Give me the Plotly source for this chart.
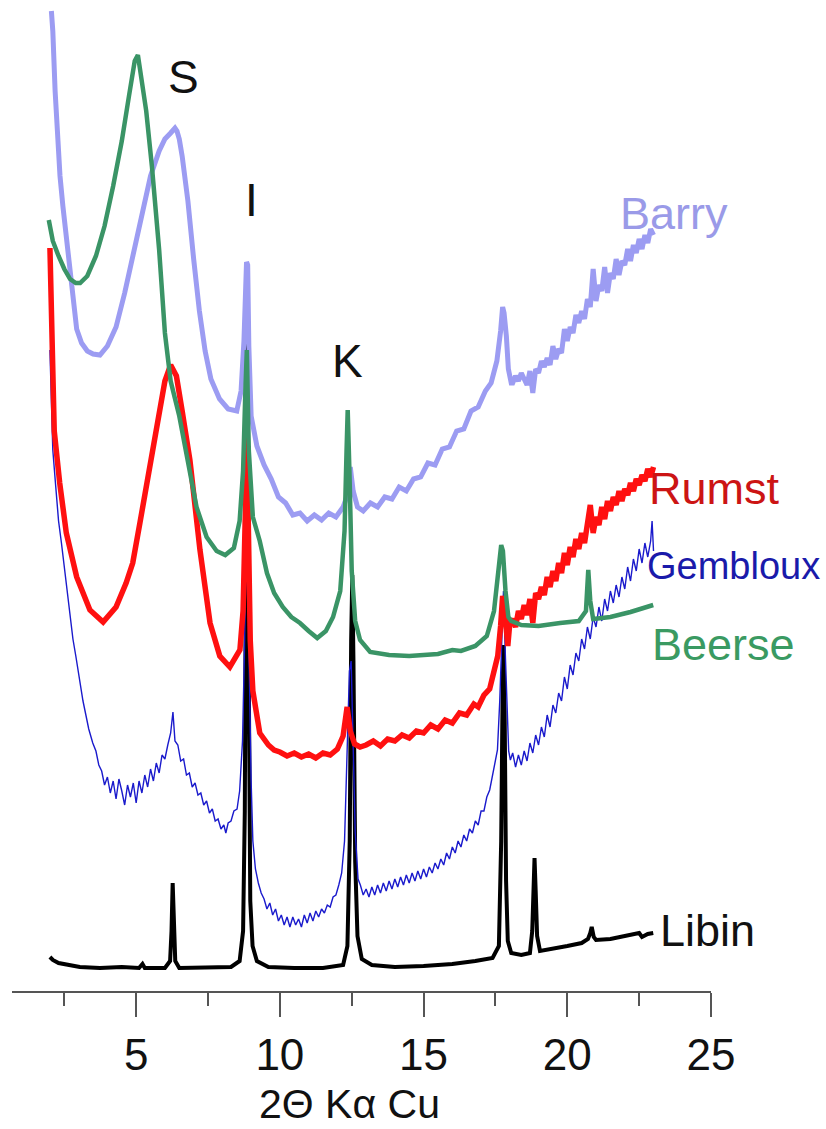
import plotly.graph_objects as go

# ---------------- data (2theta, relative intensity) ----------------
barry_x = [2.05, 2.10, 2.18, 2.25, 2.35, 2.45, 2.55, 2.65, 2.80, 2.93, 3.10, 3.30, 3.50, 3.74, 4.00,
           4.30, 4.60, 4.90, 5.20, 5.50, 5.80, 6.00, 6.20, 6.30, 6.35, 6.42, 6.50, 6.60, 6.80, 7.00,
           7.20, 7.40, 7.60, 7.90, 8.20, 8.50, 8.65, 8.75, 8.80, 8.84, 8.88, 8.92, 9.00, 9.10,
           9.20, 9.45, 9.70, 9.95, 10.20, 10.45, 10.70, 10.95, 11.20, 11.45, 11.70, 11.95, 12.20,
           12.35, 12.45, 12.55, 12.70, 12.90, 13.15, 13.40, 13.65, 13.90, 14.15, 14.40, 14.65, 14.90,
           15.15, 15.40, 15.65, 15.90, 16.15, 16.40, 16.65, 16.90, 17.15, 17.35, 17.55, 17.68, 17.75,
           17.80, 17.88, 17.95, 18.05,
           18.1, 18.2, 18.3, 18.4, 18.5, 18.6, 18.7, 18.8, 18.9, 19.0, 19.1, 19.2, 19.3, 19.4, 19.5,
           19.6, 19.7, 19.8, 19.9, 20.0, 20.1, 20.2, 20.3, 20.4, 20.5, 20.6, 20.7, 20.8, 20.9, 21.0,
           21.1, 21.2, 21.3, 21.4, 21.5, 21.6, 21.7, 21.8, 21.9, 22.0, 22.1, 22.2, 22.3, 22.4, 22.5,
           22.6, 22.7, 22.8, 22.9, 23.0]
barry_y = [980, 960, 900, 860, 815, 785, 760, 730, 690, 662, 648, 640, 637, 636, 645,
           664, 698, 738, 780, 815, 840, 852, 858, 861, 863, 860, 852, 835, 790, 732,
           680, 640, 612, 592, 582, 580, 600, 650, 700, 729, 726, 645, 575, 556,
           545, 526, 512, 494, 488, 476, 478, 470, 476, 471, 478, 474, 484,
           496, 524, 500, 484, 480, 488, 484, 494, 492, 504, 500, 512, 514,
           528, 526, 542, 544, 560, 562, 580, 584, 600, 608, 630, 660, 684,
           678, 655, 622, 608,
           608, 615, 610, 618, 612, 606, 620, 598, 622, 618, 630, 624, 633, 626, 645,
           632, 642, 638, 662, 650, 664, 658, 676, 668, 680, 672, 692, 684, 722, 690,
           706, 700, 724, 698, 718, 712, 732, 716, 730, 726, 742, 730, 746, 738, 752,
           742, 756, 748, 762, 756]

beerse_x = [1.96, 2.10, 2.30, 2.50, 2.70, 2.90, 3.05, 3.30, 3.60, 3.90, 4.20, 4.50, 4.75, 4.95, 5.06,
            5.20, 5.35, 5.55, 5.80, 6.00, 6.20, 6.50, 6.80, 7.10, 7.45, 7.80, 8.10, 8.40, 8.60, 8.72,
            8.80, 8.85, 8.92, 9.00, 9.06, 9.30, 9.55, 9.80, 10.10, 10.40, 10.70, 11.00, 11.30, 11.60,
            11.85, 12.10, 12.25, 12.32, 12.36, 12.42, 12.50, 12.62, 12.79, 13.14, 13.80, 14.50, 15.50,
            16.00, 16.30, 16.80, 17.20, 17.45, 17.60, 17.70, 17.76, 17.85, 17.95, 18.05, 18.40, 19.00,
            19.75, 20.40, 20.65, 20.73, 20.80, 20.90, 21.50, 22.20, 22.99]
beerse_y = [771, 750, 735, 722, 712, 708, 708, 715, 735, 765, 805, 850, 895, 930, 936,
            910, 880, 824, 741, 658, 610, 575, 530, 484, 454, 440, 436, 443, 470, 520,
            600, 641, 540, 490, 474, 450, 418, 398, 384, 374, 368, 360, 353, 360,
            374, 400, 460, 540, 581, 520, 420, 370, 351, 339, 336, 335, 337,
            341, 340, 345, 355, 380, 420, 446, 440, 400, 374, 370, 366, 365,
            368, 370, 380, 421, 390, 372, 374, 379, 386]

rumst_x = [2.00, 2.07, 2.15, 2.34, 2.57, 2.93, 3.39, 3.85, 4.30, 4.65, 4.88, 5.13, 5.37, 5.58, 5.80,
           6.00, 6.20, 6.40, 6.60, 6.87, 7.22, 7.57, 7.91, 8.26, 8.61, 8.72, 8.80, 8.85, 8.90, 8.97,
           9.06, 9.30, 9.60, 9.80, 10.00, 10.25, 10.50, 10.75, 11.00, 11.25, 11.50, 11.75, 12.00,
           12.20, 12.34, 12.45, 12.60, 12.79,
           13.00, 13.25, 13.50, 13.75, 14.00, 14.25, 14.50, 14.75, 15.00, 15.25, 15.50, 15.75, 16.00,
           16.25, 16.50, 16.75, 16.90, 17.10, 17.30, 17.45, 17.58, 17.68, 17.75, 17.80, 17.86, 17.93,
           18.0,
           18.1, 18.2, 18.3, 18.4, 18.5, 18.6, 18.7, 18.8, 18.9, 19.0, 19.1, 19.2, 19.3, 19.4, 19.5,
           19.6, 19.7, 19.8, 19.9, 20.0, 20.1, 20.2, 20.3, 20.4, 20.5, 20.6, 20.7, 20.8, 20.9, 21.0,
           21.1, 21.2, 21.3, 21.4, 21.5, 21.6, 21.7, 21.8, 21.9, 22.0, 22.1, 22.2, 22.3, 22.4, 22.5,
           22.6, 22.7, 22.8, 22.9, 23.0]
rumst_y = [743, 640, 560, 508, 458, 414, 381, 369, 384, 408, 428, 468, 508, 541, 580,
           610, 626, 615, 580, 531, 441, 368, 335, 324, 341, 380, 480, 561, 470, 350,
           300, 258, 246, 241, 239, 235, 238, 234, 237, 233, 238, 236, 242,
           255, 284, 260, 247, 244,
           246, 250, 245, 252, 250, 256, 253, 260, 258, 266, 262, 271, 268,
           278, 276, 287, 284, 296, 302, 318, 335, 365, 395, 388, 360, 345,
           368,
           372, 364, 380, 372, 386, 376, 392, 368, 398, 392, 404, 396, 414, 404, 420,
           410, 428, 418, 438, 426, 444, 434, 452, 442, 458, 448, 466, 486, 458, 474,
           466, 484, 472, 490, 480, 494, 486, 500, 490, 502, 496, 508, 500, 512, 506,
           516, 510, 522, 514, 524]

gembloux_x = [2.00, 2.05, 2.10, 2.20, 2.30, 2.40, 2.50, 2.58, 2.70, 2.80, 2.90, 3.04, 3.15, 3.25, 3.35,
              3.49, 3.60, 3.70, 3.80, 3.90,
              4.0, 4.1, 4.2, 4.3, 4.4, 4.5, 4.6, 4.7, 4.8, 4.9, 5.0, 5.1, 5.2, 5.3, 5.4, 5.5, 5.6, 5.7,
              5.8, 5.9, 6.0, 6.1, 6.2, 6.28, 6.35, 6.45, 6.55, 6.65, 6.75, 6.85, 6.95, 7.05, 7.15, 7.25,
              7.35, 7.45, 7.55, 7.65, 7.75, 7.85, 7.95, 8.05, 8.12, 8.2, 8.3, 8.4, 8.51, 8.6, 8.7, 8.76,
              8.81, 8.85, 8.89, 8.94, 9.0, 9.06, 9.15, 9.25, 9.35, 9.45, 9.55, 9.65, 9.75, 9.85, 9.95,
              10.05, 10.15, 10.25, 10.35, 10.45, 10.55, 10.65, 10.75, 10.85, 10.95, 11.05, 11.15, 11.25,
              11.35, 11.45, 11.55, 11.65, 11.75, 11.85, 11.95, 12.05, 12.15, 12.25, 12.35, 12.42, 12.48,
              12.54, 12.62, 12.72, 12.8, 12.9, 13.0, 13.1, 13.2, 13.3, 13.4, 13.5, 13.6, 13.7, 13.8,
              13.9, 14.0, 14.1, 14.2, 14.3, 14.4, 14.5, 14.6, 14.7, 14.8, 14.9, 15.0, 15.1, 15.2, 15.3,
              15.4, 15.5, 15.6, 15.7, 15.8, 15.9, 16.0, 16.1, 16.2, 16.3, 16.4, 16.5, 16.6, 16.7, 16.8,
              16.9, 17.0, 17.1, 17.2, 17.3, 17.4, 17.5, 17.57, 17.65, 17.72, 17.78, 17.84, 17.9, 17.96,
              18.02, 18.1, 18.2, 18.3, 18.4, 18.5, 18.6, 18.7, 18.8, 18.9, 19.0, 19.1, 19.2, 19.3, 19.4,
              19.5, 19.6, 19.7, 19.8, 19.9, 20.0, 20.1, 20.2, 20.3, 20.4, 20.5, 20.6, 20.7, 20.8, 20.9,
              21.0, 21.1, 21.2, 21.3, 21.4, 21.5, 21.6, 21.7, 21.8, 21.9, 22.0, 22.1, 22.2, 22.3, 22.4,
              22.5, 22.6, 22.7, 22.8, 22.9, 22.95, 23.0]
gembloux_y = [641, 590, 541, 505, 470, 448, 425, 408, 380, 352, 335, 308, 290, 276, 262,
              248, 240, 226, 220, 206,
              214, 198, 210, 192, 212, 200, 186, 206, 194, 208, 188, 210, 198, 216, 204, 222, 210, 228,
              218, 236, 232, 246, 258, 279, 250, 246, 230, 232, 216, 218, 204, 208, 196, 198,
              186, 190, 178, 182, 170, 172, 162, 166, 158, 168, 170, 180, 182, 200, 250, 330,
              420, 470, 400, 300, 210, 150, 122, 108, 98, 92, 82, 88, 76, 82, 70,
              76, 66, 74, 64, 74, 66, 72, 64, 76, 68, 78, 70, 80,
              74, 82, 78, 86, 84, 94, 96, 106, 118, 150, 240, 320, 330,
              260, 160, 112, 106, 96, 102, 94, 104, 96, 106, 98, 108, 100, 110,
              102, 112, 104, 114, 106, 116, 108, 118, 110, 120, 112, 122, 114, 124, 118,
              128, 122, 132, 126, 138, 132, 144, 138, 150, 144, 156, 150, 162, 158, 170,
              166, 180, 180, 194, 201, 216, 228, 241, 290, 350, 400, 340, 280, 240,
              231, 238, 224, 236, 226, 240, 230, 248, 238, 256, 246, 264, 254, 276, 264,
              286, 278, 298, 290, 314, 302, 326, 316, 338, 330, 352, 342, 364, 352, 374,
              364, 384, 370, 392, 380, 400, 388, 406, 394, 414, 402, 424, 410, 432, 420,
              442, 428, 448, 434, 450, 470, 440]

libin_x = [2.00, 2.10, 2.30, 2.60, 3.04, 3.74, 4.50, 5.10, 5.22, 5.30, 6.00, 6.18, 6.23, 6.27, 6.31,
           6.36, 6.50, 7.50, 8.30, 8.60, 8.72, 8.78, 8.82, 8.85, 8.88, 8.92, 8.97, 9.05, 9.20, 9.60,
           10.5, 11.5, 12.2, 12.35, 12.43, 12.48, 12.52, 12.56, 12.62, 12.70, 12.85, 13.2, 14.0, 15.0,
           16.0, 16.8, 17.4, 17.62, 17.70, 17.75, 17.78, 17.82, 17.87, 17.93, 18.05, 18.4, 18.7,
           18.78, 18.82, 18.86, 18.90, 18.95, 19.05, 19.5, 20.0, 20.5, 20.72, 20.80, 20.85, 20.92,
           21.0, 21.5, 22.0, 22.3, 22.5, 22.6, 22.8, 22.99]
libin_y = [34, 31, 28, 26, 24, 23, 24, 23, 27, 23, 23, 30, 60, 108, 70,
           30, 23, 23, 24, 30, 60, 180, 450, 651, 480, 200, 90, 45, 30, 24,
           23, 23, 26, 45, 150, 350, 416, 330, 130, 55, 32, 26, 24, 25,
           27, 30, 33, 45, 150, 300, 346, 280, 110, 50, 38, 36, 38,
           60, 100, 133, 100, 55, 40, 42, 45, 48, 52, 58, 64, 54,
           51, 52, 55, 56, 58, 54, 57, 58]

x_ticks = [5, 10, 15, 20, 25]
x_tick_labels = ["5", "10", "15", "20", "25"]
minor_ticks = [2.5, 7.5, 12.5, 17.5, 22.5]

series_names = ["Libin", "Gembloux", "Rumst", "Barry", "Beerse"]
line_colors = {"Barry": "#9c9cf2", "Beerse": "#3a9466", "Rumst": "#ff1010",
               "Gembloux": "#1a1acc", "Libin": "#000000"}
label_colors = {"Barry": "#9a9ae8", "Beerse": "#3a9a62", "Rumst": "#cc1414",
                "Gembloux": "#1a1aaa", "Libin": "#111111"}
line_widths = {"Barry": 5, "Beerse": 4.5, "Rumst": 5.5, "Gembloux": 1.4, "Libin": 4}
label_sizes = {"Barry": 45, "Rumst": 45, "Gembloux": 38, "Beerse": 45, "Libin": 45}
data = {"Barry": (barry_x, barry_y), "Beerse": (beerse_x, beerse_y), "Rumst": (rumst_x, rumst_y),
        "Gembloux": (gembloux_x, gembloux_y), "Libin": (libin_x, libin_y)}

# label anchor positions (2theta, intensity)
label_pos = {"Barry": (21.77, 778), "Rumst": (22.78, 503), "Gembloux": (22.71, 425),
             "Beerse": (22.88, 347), "Libin": (23.16, 61)}
peak_labels = [("S", 6.63, 914), ("I", 9.03, 791), ("K", 12.37, 630)]

FONT = "Liberation Sans, Arial, sans-serif"

fig = go.Figure()
for name in series_names:
    xs, ys = data[name]
    fig.add_trace(go.Scatter(x=xs, y=ys, mode="lines", name=name,
                             line=dict(color=line_colors[name], width=line_widths[name]),
                             showlegend=False))

annotations = []
for name, (lx, ly) in label_pos.items():
    annotations.append(dict(x=lx, y=ly, xref="x", yref="y", text=name, showarrow=False,
                            xanchor="left", yanchor="middle",
                            font=dict(family=FONT, size=label_sizes[name], color=label_colors[name])))
for txt, lx, ly in peak_labels:
    annotations.append(dict(x=lx, y=ly, xref="x", yref="y", text=txt, showarrow=False,
                            xanchor="center", yanchor="middle",
                            font=dict(family=FONT, size=46, color="#111111")))
annotations.append(dict(x=0.4835, y=-0.139, xref="paper", yref="paper", text="2Θ Kα Cu",
                        showarrow=False, xanchor="center", yanchor="bottom",
                        font=dict(family=FONT, size=41, color="#111111")))

fig.update_layout(
    width=826, height=1129,
    margin=dict(l=12, r=115, t=0, b=138, pad=0),
    paper_bgcolor="white", plot_bgcolor="white",
    annotations=annotations,
    xaxis=dict(range=[0.68, 25], tickvals=x_ticks, ticktext=x_tick_labels,
               showgrid=False, zeroline=False, showline=True, linecolor="#555555", linewidth=1.5,
               ticks="outside", ticklen=24, tickwidth=1.5, tickcolor="#555555",
               tickfont=dict(family=FONT, size=44, color="#111111"),
               minor=dict(ticks="outside", ticklen=13, tickwidth=1.5, tickcolor="#555555",
                          tickvals=minor_ticks, showgrid=False)),
    yaxis=dict(range=[0, 991], visible=False, showgrid=False, zeroline=False),
)

fig.write_html("out.html")
